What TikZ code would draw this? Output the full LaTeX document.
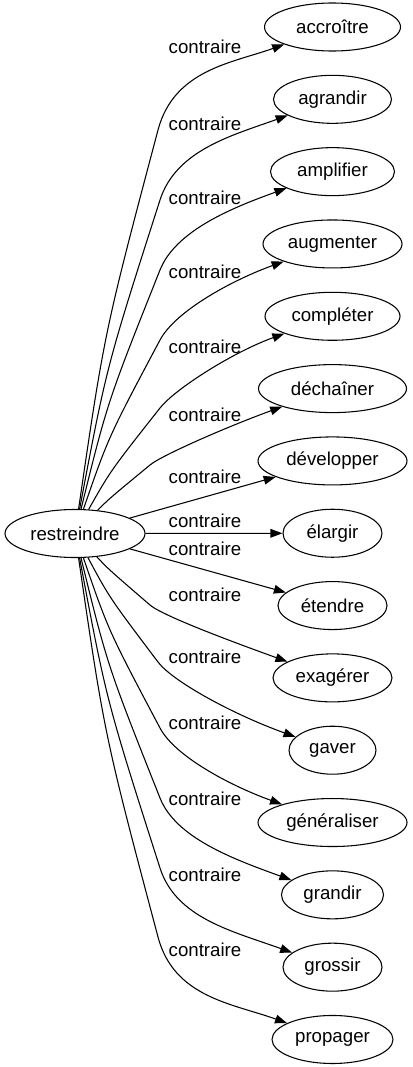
\documentclass[tikz,border=0pt]{standalone}
\usepackage{fontspec}
\setmainfont{Liberation Sans}
\usetikzlibrary{arrows.meta, shapes.geometric, calc}
\tikzset{
  every picture/.style={line width=0.8pt},
  word/.style={draw, ellipse, inner sep=0pt, minimum height=36pt, minimum width=#1*0.75pt,
    font=\fontsize{14}{16}\selectfont},
  word/.default=120,
  link/.style={-{Triangle[length=9pt, width=6.5pt]}, draw=black},
  tag/.style={font=\fontsize{14}{16}\selectfont, inner sep=0pt},
}

\begin{document}
\begin{tikzpicture}[x=0.75pt, y=-0.75pt]
  \useasboundingbox (0,0) rectangle (412,1067);
  % source word
  \node[word=140] (src) at (75,533.5) {restreindre};
  % opposite words, one per row
  \foreach \i/\t/\w in {1/accroître/136, 2/agrandir/118, 3/amplifier/124, 4/augmenter/139,
      5/compléter/135, 6/déchaîner/148, 7/développer/149, 8/élargir/99, 9/étendre/109,
      10/exagérer/119, 11/gaver/87, 12/généraliser/149, 13/grandir/102, 14/grossir/99,
      15/propager/121}
    \node[word=\w] (w\i) at (332.5,{27+72.32*(\i-1)}) {\t};
  % links bending upwards
  \foreach \i/\mx/\my/\dx in {1/158/130/-12, 2/160/200/-11, 3/160/270/-10, 4/160/340/-9,
      5/160/408/-7, 6/150/465/-4} {
    \coordinate (bend\i) at (\mx,\my);
    \coordinate (mid\i) at ($(src)!0.5!(bend\i)+(\dx,0)$);
    \draw[link] (src) .. controls (mid\i) .. (bend\i)
      .. controls ($(mid\i)!1.3!(bend\i)$) and ($(w\i)+(-100,36)$) .. (w\i);
  }
  % nearly straight links
  \foreach \i in {7,8,9}
    \draw[link] (src) -- (w\i);
  % links bending downwards
  \foreach \i/\mx/\my/\dx in {10/150/605/-4, 11/158/662/-7, 12/160/728/-9, 13/160/798/-10,
      14/160/868/-11, 15/158/937/-12} {
    \coordinate (bend\i) at (\mx,\my);
    \coordinate (mid\i) at ($(src)!0.5!(bend\i)+(\dx,0)$);
    \draw[link] (src) .. controls (mid\i) .. (bend\i)
      .. controls ($(mid\i)!1.3!(bend\i)$) and ($(w\i)+(-100,-36)$) .. (w\i);
  }
  % link labels
  \foreach \y [count=\i] in {47,124,198,272,347,415,477,521,549,595,657,723,799,875,950}
    \node[tag] (c\i) at (205,\y) {contraire};
\end{tikzpicture}
\end{document}
